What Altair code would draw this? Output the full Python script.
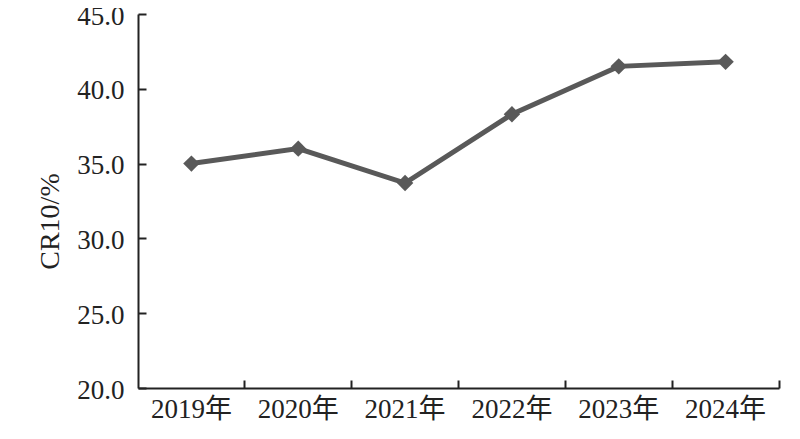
import altair as alt
import pandas as pd

years = ["2019年", "2020年", "2021年", "2022年", "2023年", "2024年"]
cr10 = [35.0, 36.0, 33.7, 38.3, 41.5, 41.8]
y_ticks = [20, 25, 30, 35, 40, 45]

df = pd.DataFrame({"year": years, "cr10": cr10})

FONT = "Liberation Serif, Times New Roman, Noto Sans CJK SC, serif"
W, H = 641, 374
INK = "#222222"

xscale = alt.Scale(type="band", paddingInner=0, paddingOuter=0, domain=years)
yscale = alt.Scale(domain=[20, 45], nice=False, zero=False)

line = alt.Chart(df).mark_line(color="#595959", strokeWidth=5).encode(
    x=alt.X("year:N", sort=years, scale=xscale, bandPosition=0.5,
            axis=alt.Axis(orient="bottom", title=None, ticks=False, domain=True,
                          domainColor=INK, domainWidth=2, labelAngle=0,
                          labelFont=FONT, labelFontSize=27, labelColor=INK,
                          labelPadding=8)),
    y=alt.Y("cr10:Q", scale=yscale,
            axis=alt.Axis(orient="left", title="CR10/%", values=y_ticks, format=".1f",
                          ticks=False, domain=True, domainColor=INK, domainWidth=2,
                          grid=False, labelFont=FONT, labelFontSize=27, labelColor=INK,
                          labelPadding=14, labelOffset=2, titleFont=FONT, titleFontSize=28,
                          titleFontWeight="normal", titleColor=INK,
                          titleX=-88, titleY=207, titleBaseline="middle",
                          titleAlign="center")),
)

points = alt.Chart(df).mark_point(shape="diamond", filled=True, color="#595959",
                                  size=270, opacity=1).encode(
    x=alt.X("year:N", sort=years, scale=xscale, bandPosition=0.5,
            axis=alt.Axis(orient="top", offset=-H, title=None, labels=False,
                          domain=False, grid=False, ticks=True, tickSize=8, tickWidth=2,
                          tickColor=INK, bandPosition=1)),
    y=alt.Y("cr10:Q", scale=yscale,
            axis=alt.Axis(orient="right", offset=-W, title=None, labels=False,
                          domain=False, ticks=True, tickSize=8, tickWidth=2,
                          tickColor=INK, values=y_ticks, grid=False)),
)

chart = (
    alt.layer(line, points)
    .resolve_axis(x="independent", y="independent")
    .properties(width=W, height=H, autosize=alt.AutoSizeParams(type="none"),
                padding={"left": 130, "top": 6, "right": 6, "bottom": 40},
                view=alt.ViewBackground(stroke="transparent", strokeWidth=0))
    .configure_view(stroke="transparent", strokeWidth=0, strokeOpacity=0)
    .configure(background="white")
)

chart.save("out.html", embed_options={"renderer": "svg", "actions": False})
